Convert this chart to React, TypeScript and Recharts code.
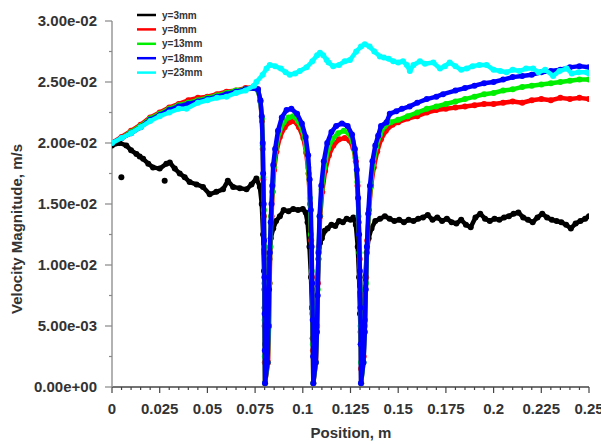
import { ComposedChart, Scatter, XAxis, YAxis } from "recharts";

type Pt = [number, number];

// tick positions + labels
const xMajorTicks = [0, 0.025, 0.05, 0.075, 0.1, 0.125, 0.15, 0.175, 0.2, 0.225, 0.25];
const xTickLabels = ["0", "0.025", "0.05", "0.075", "0.1", "0.125", "0.15", "0.175", "0.2", "0.225", "0.25"];
const xMinorTicks = [
  0.005, 0.01, 0.015, 0.02, 0.03, 0.035, 0.04, 0.045, 0.055, 0.06, 0.065, 0.07, 0.08, 0.085, 0.09, 0.095,
  0.105, 0.11, 0.115, 0.12, 0.13, 0.135, 0.14, 0.145, 0.155, 0.16, 0.165, 0.17, 0.18, 0.185, 0.19, 0.195,
  0.205, 0.21, 0.215, 0.22, 0.23, 0.235, 0.24, 0.245,
];
const yMajorTicks = [0, 0.005, 0.01, 0.015, 0.02, 0.025, 0.03];
const yTickLabels = ["0.00e+00", "5.00e-03", "1.00e-02", "1.50e-02", "2.00e-02", "2.50e-02", "3.00e-02"];
const yMinorTicks = [0.0025, 0.0075, 0.0125, 0.0175, 0.0225, 0.0275];

const seriesNames = ["y=3mm", "y=8mm", "y=13mm", "y=18mm", "y=23mm"];
const seriesColors = ["#000000", "#ff0000", "#00ee00", "#0000ff", "#00ffff"];

const y3mm: Pt[] = [
  [0, 0.0198], [0.004, 0.02], [0.0075, 0.0198], [0.01, 0.0194], [0.0128, 0.0191], [0.0145, 0.0189],
  [0.0163, 0.0187], [0.019, 0.0183], [0.0215, 0.018], [0.025, 0.0179], [0.0285, 0.0183], [0.0303, 0.0184],
  [0.0329, 0.0179], [0.0355, 0.0175], [0.0381, 0.0172], [0.0407, 0.0168], [0.0443, 0.0166], [0.0477, 0.0164],
  [0.0512, 0.0158], [0.0547, 0.016], [0.0582, 0.0162], [0.0607, 0.0169], [0.0635, 0.0164], [0.067, 0.0163],
  [0.0705, 0.0162], [0.0731, 0.0166], [0.0757, 0.0171], [0.0775, 0.0164], [0.0785, 0.015], [0.0792, 0.0125],
  [0.0797, 0.0095], [0.08, 0.0065], [0.0802, 0.0035], [0.0812, 0.005], [0.0818, 0.008], [0.0825, 0.0105],
  [0.0832, 0.0122], [0.0845, 0.013], [0.086, 0.0136], [0.088, 0.014], [0.09, 0.0145], [0.0925, 0.0144],
  [0.095, 0.0146], [0.0975, 0.0145], [0.1, 0.0146], [0.1015, 0.0143], [0.1025, 0.0135], [0.1035, 0.0115],
  [0.1043, 0.009], [0.1048, 0.0065], [0.1052, 0.004], [0.1058, 0.0025], [0.1068, 0.005], [0.1075, 0.008],
  [0.1082, 0.0105], [0.109, 0.0118], [0.11, 0.0122], [0.1115, 0.0128], [0.113, 0.013], [0.115, 0.0133],
  [0.117, 0.0132], [0.119, 0.0136], [0.121, 0.0135], [0.123, 0.0138], [0.125, 0.0137], [0.1265, 0.0139],
  [0.1278, 0.0133], [0.1288, 0.0115], [0.1295, 0.009], [0.13, 0.006], [0.1304, 0.0035], [0.1312, 0.004],
  [0.132, 0.0065], [0.1328, 0.009], [0.1335, 0.011], [0.1345, 0.0122], [0.136, 0.013], [0.138, 0.0136],
  [0.1405, 0.0138], [0.143, 0.014], [0.1455, 0.0138], [0.148, 0.0136], [0.1505, 0.0137], [0.153, 0.0135],
  [0.1555, 0.0137], [0.158, 0.0136], [0.1605, 0.0138], [0.163, 0.0139], [0.1655, 0.0141], [0.168, 0.0137],
  [0.1705, 0.0139], [0.173, 0.0136], [0.1755, 0.0138], [0.178, 0.0135], [0.1805, 0.0134], [0.183, 0.0137],
  [0.1855, 0.0133], [0.188, 0.0131], [0.1905, 0.0139], [0.193, 0.0142], [0.1955, 0.0138], [0.198, 0.0136],
  [0.2005, 0.0138], [0.203, 0.0137], [0.2055, 0.0139], [0.208, 0.014], [0.2105, 0.0142], [0.213, 0.0143],
  [0.2155, 0.0139], [0.218, 0.0137], [0.2205, 0.0135], [0.223, 0.0139], [0.2255, 0.0142], [0.228, 0.0139],
  [0.2305, 0.0137], [0.233, 0.0136], [0.2355, 0.0135], [0.238, 0.0133], [0.2405, 0.013], [0.243, 0.0134],
  [0.2455, 0.0136], [0.248, 0.0138], [0.25, 0.014],
];
// isolated black dots off the trend
const y3mmStray: Pt[] = [[0.0049, 0.0172], [0.0276, 0.0169]];

const y8mm: Pt[] = [
  [0, 0.02], [0.005, 0.0205], [0.01, 0.021], [0.015, 0.0215], [0.02, 0.0221], [0.025, 0.0225], [0.03, 0.0229],
  [0.035, 0.0232], [0.04, 0.0235], [0.045, 0.0237], [0.05, 0.0238], [0.055, 0.024], [0.06, 0.0242],
  [0.065, 0.0243], [0.07, 0.0245], [0.074, 0.0246], [0.0765, 0.0244], [0.0778, 0.0234], [0.0786, 0.0218],
  [0.079, 0.0195], [0.0793, 0.017], [0.0796, 0.014], [0.0798, 0.011], [0.0799, 0.008], [0.08, 0.005],
  [0.0801, 0.002], [0.0802, 0.0003], [0.0818, 0.002], [0.0823, 0.005], [0.0826, 0.0085], [0.083, 0.0115],
  [0.0836, 0.014], [0.0842, 0.016], [0.085, 0.0178], [0.0862, 0.0193], [0.088, 0.0205], [0.0905, 0.0213],
  [0.093, 0.0217], [0.0955, 0.0218], [0.098, 0.0213], [0.1003, 0.0204], [0.1018, 0.0192], [0.103, 0.0175],
  [0.1038, 0.015], [0.1044, 0.012], [0.1048, 0.009], [0.1051, 0.006], [0.1053, 0.003], [0.1055, 0.0003],
  [0.1069, 0.002], [0.1075, 0.005], [0.1079, 0.0085], [0.1084, 0.0115], [0.1091, 0.014], [0.1102, 0.016],
  [0.1117, 0.0177], [0.1137, 0.019], [0.116, 0.0198], [0.119, 0.0203], [0.122, 0.0204], [0.1245, 0.0202],
  [0.1265, 0.0196], [0.1278, 0.0185], [0.1287, 0.0165], [0.1293, 0.0135], [0.1298, 0.0105], [0.1301, 0.0075],
  [0.1303, 0.0045], [0.1305, 0.0015], [0.1306, 0.0003], [0.1319, 0.0025], [0.1326, 0.0055], [0.1332, 0.009],
  [0.1338, 0.012], [0.1347, 0.0145], [0.1358, 0.0165], [0.1372, 0.018], [0.139, 0.0193], [0.141, 0.0203],
  [0.1435, 0.021], [0.147, 0.0215], [0.15, 0.0217], [0.155, 0.022], [0.16, 0.0222], [0.165, 0.0225],
  [0.17, 0.0227], [0.175, 0.0228], [0.18, 0.0229], [0.185, 0.023], [0.19, 0.0231], [0.195, 0.0232],
  [0.2, 0.0232], [0.205, 0.0233], [0.21, 0.0234], [0.215, 0.0233], [0.22, 0.0235], [0.225, 0.0236],
  [0.23, 0.0235], [0.235, 0.0237], [0.24, 0.0236], [0.245, 0.0237], [0.25, 0.0236],
];

const y13mm: Pt[] = [
  [0, 0.02], [0.005, 0.0204], [0.01, 0.0209], [0.015, 0.0214], [0.02, 0.022], [0.025, 0.0224], [0.03, 0.0228],
  [0.035, 0.0231], [0.04, 0.0233], [0.045, 0.0235], [0.05, 0.0237], [0.055, 0.0239], [0.06, 0.0241],
  [0.065, 0.0243], [0.07, 0.0244], [0.074, 0.0245], [0.0765, 0.0243], [0.0778, 0.0234], [0.0786, 0.022],
  [0.079, 0.0198], [0.0793, 0.0172], [0.0796, 0.0145], [0.0798, 0.0115], [0.0799, 0.0085], [0.08, 0.0055],
  [0.0801, 0.0025], [0.0802, 0.0003], [0.0816, 0.002], [0.0822, 0.005], [0.0825, 0.0085], [0.0829, 0.0115],
  [0.0834, 0.014], [0.084, 0.016], [0.0848, 0.018], [0.0858, 0.0195], [0.0875, 0.0208], [0.09, 0.0217],
  [0.0925, 0.0221], [0.095, 0.0222], [0.0975, 0.0218], [0.1, 0.021], [0.1017, 0.0197], [0.1029, 0.018],
  [0.1037, 0.0155], [0.1043, 0.0125], [0.1047, 0.0095], [0.1051, 0.0065], [0.1053, 0.0035], [0.1055, 0.0003],
  [0.1068, 0.002], [0.1074, 0.005], [0.1078, 0.008], [0.1083, 0.0112], [0.1089, 0.014], [0.1099, 0.0162],
  [0.1113, 0.018], [0.1132, 0.0195], [0.1155, 0.0203], [0.1185, 0.0208], [0.1215, 0.021], [0.124, 0.0208],
  [0.1262, 0.0201], [0.1276, 0.0188], [0.1286, 0.0168], [0.1292, 0.014], [0.1297, 0.011], [0.1301, 0.008],
  [0.1303, 0.005], [0.1305, 0.002], [0.1306, 0.0003], [0.1318, 0.002], [0.1325, 0.005], [0.1331, 0.0085],
  [0.1337, 0.0115], [0.1345, 0.0142], [0.1355, 0.0164], [0.1368, 0.0182], [0.1385, 0.0197], [0.1405, 0.0207],
  [0.143, 0.0214], [0.146, 0.0217], [0.15, 0.0219], [0.155, 0.0222], [0.16, 0.0225], [0.165, 0.0228],
  [0.17, 0.023], [0.175, 0.0232], [0.18, 0.0234], [0.185, 0.0236], [0.19, 0.0238], [0.195, 0.024],
  [0.2, 0.0241], [0.205, 0.0243], [0.21, 0.0244], [0.215, 0.0246], [0.22, 0.0247], [0.225, 0.0248],
  [0.23, 0.0249], [0.235, 0.025], [0.24, 0.0251], [0.245, 0.0252], [0.25, 0.0252],
];

const y18mm: Pt[] = [
  [0, 0.02], [0.005, 0.0204], [0.01, 0.0208], [0.015, 0.0213], [0.02, 0.0219], [0.025, 0.0223], [0.03, 0.0227],
  [0.035, 0.023], [0.04, 0.0232], [0.045, 0.0234], [0.05, 0.0236], [0.055, 0.0238], [0.06, 0.024],
  [0.065, 0.0242], [0.07, 0.0244], [0.074, 0.0245], [0.0765, 0.0244], [0.0778, 0.0235], [0.0785, 0.0222],
  [0.079, 0.02], [0.0792, 0.0175], [0.0795, 0.015], [0.0797, 0.012], [0.0799, 0.009], [0.08, 0.006],
  [0.0801, 0.003], [0.0802, 0.0003], [0.0815, 0.002], [0.082, 0.005], [0.0823, 0.008], [0.0827, 0.011],
  [0.0832, 0.0135], [0.0836, 0.015], [0.084, 0.0165], [0.0845, 0.0182], [0.0855, 0.0195], [0.087, 0.021],
  [0.089, 0.0221], [0.0915, 0.0227], [0.094, 0.0228], [0.097, 0.0224], [0.0995, 0.0216], [0.1015, 0.0205],
  [0.1028, 0.019], [0.1036, 0.017], [0.1042, 0.0145], [0.1046, 0.0115], [0.1049, 0.0085], [0.1052, 0.0055],
  [0.1054, 0.0025], [0.1055, 0.0003], [0.1068, 0.002], [0.1074, 0.0045], [0.1078, 0.0075], [0.1082, 0.011],
  [0.1088, 0.014], [0.1097, 0.0165], [0.111, 0.0185], [0.1128, 0.02], [0.115, 0.0209], [0.1175, 0.0214],
  [0.1205, 0.0216], [0.1235, 0.0214], [0.1258, 0.0207], [0.1273, 0.0195], [0.1283, 0.0178], [0.129, 0.0155],
  [0.1295, 0.0125], [0.1299, 0.0095], [0.1302, 0.0065], [0.1304, 0.0035], [0.1305, 0.0003], [0.1318, 0.002],
  [0.1325, 0.0045], [0.133, 0.008], [0.1336, 0.0115], [0.1343, 0.0142], [0.1352, 0.0165], [0.1365, 0.0185],
  [0.138, 0.0198], [0.1395, 0.0206], [0.141, 0.0214], [0.1439, 0.0217], [0.1456, 0.0224], [0.149, 0.0226],
  [0.152, 0.0228], [0.156, 0.023], [0.16, 0.0233], [0.165, 0.0236], [0.17, 0.0238], [0.1735, 0.024],
  [0.18, 0.0243], [0.185, 0.0245], [0.19, 0.0247], [0.195, 0.0249], [0.2, 0.025], [0.205, 0.0252],
  [0.21, 0.0254], [0.215, 0.0255], [0.22, 0.0256], [0.225, 0.0258], [0.23, 0.0259], [0.235, 0.026],
  [0.24, 0.0262], [0.245, 0.0263], [0.25, 0.0262],
];

const y23mm: Pt[] = [
  [0, 0.02], [0.005, 0.0204], [0.01, 0.0208], [0.015, 0.0213], [0.02, 0.0218], [0.025, 0.0222], [0.03, 0.0225],
  [0.035, 0.0228], [0.039, 0.0228], [0.045, 0.0233], [0.05, 0.0235], [0.055, 0.0237], [0.06, 0.0238],
  [0.065, 0.0241], [0.07, 0.0243], [0.0745, 0.0247], [0.0757, 0.025], [0.079, 0.0256], [0.081, 0.0261],
  [0.0827, 0.0264], [0.0855, 0.0263], [0.0885, 0.0261], [0.091, 0.0258], [0.0932, 0.0256], [0.096, 0.0257],
  [0.0984, 0.0259], [0.102, 0.0262], [0.105, 0.0267], [0.1075, 0.0272], [0.109, 0.0274], [0.1107, 0.0272],
  [0.1125, 0.0268], [0.1135, 0.0266], [0.1159, 0.0263], [0.119, 0.0264], [0.122, 0.0267], [0.1247, 0.0268],
  [0.128, 0.0275], [0.1305, 0.0279], [0.1325, 0.0281], [0.135, 0.0279], [0.1375, 0.0275], [0.1404, 0.0271],
  [0.1425, 0.027], [0.145, 0.0269], [0.1474, 0.0267], [0.15, 0.0266], [0.1525, 0.0267], [0.1545, 0.0264],
  [0.1561, 0.0259], [0.158, 0.0264], [0.1614, 0.0267], [0.164, 0.0265], [0.1684, 0.0266], [0.1719, 0.0261],
  [0.1745, 0.0263], [0.177, 0.0266], [0.18, 0.0263], [0.183, 0.026], [0.1859, 0.0261], [0.189, 0.0263],
  [0.1925, 0.0264], [0.1963, 0.0264], [0.2, 0.026], [0.2035, 0.0259], [0.2068, 0.0258], [0.21, 0.026],
  [0.2135, 0.0259], [0.217, 0.0261], [0.2207, 0.0261], [0.2235, 0.0258], [0.227, 0.026], [0.2312, 0.0255],
  [0.2345, 0.0259], [0.2383, 0.0261], [0.241, 0.0257], [0.2445, 0.0258], [0.2488, 0.0258], [0.25, 0.0257],
];

const seriesData = [y3mm, y8mm, y13mm, y18mm, y23mm];

const FONT = "'Liberation Sans', Arial, sans-serif";
const TEXT = "#333333";

const toRows = (pts: Pt[]) => pts.map(([x, y]) => ({ x, y }));
const near = (a: number, b: number) => Math.abs(a - b) < 1e-6;

function XTick({ x, y, payload }: any) {
  const i = xMajorTicks.findIndex((t) => near(t, payload.value));
  const major = i >= 0;
  return (
    <g>
      <line x1={x} x2={x} y1={y} y2={y + (major ? 6 : 3)} stroke="#444" strokeWidth={1.2} />
      {major && (
        <text x={x} y={y + 27} textAnchor="middle" fontFamily={FONT} fontWeight="bold" fontSize={15} fill={TEXT}>
          {xTickLabels[i]}
        </text>
      )}
    </g>
  );
}

function YTick({ x, y, payload }: any) {
  const i = yMajorTicks.findIndex((t) => near(t, payload.value));
  const major = i >= 0;
  return (
    <g>
      <line x1={x} x2={x - (major ? 7 : 3)} y1={y} y2={y} stroke="#888" strokeWidth={1.2} />
      {major && (
        <text x={x - 15} y={y} dy="0.36em" textAnchor="end" fontFamily={FONT} fontWeight="bold" fontSize={15} fill={TEXT}>
          {yTickLabels[i]}
        </text>
      )}
    </g>
  );
}

const dot = (color: string) => (p: any) => <circle cx={p.cx} cy={p.cy} r={3} fill={color} />;

export default function App() {
  const xTicks = [...xMajorTicks, ...xMinorTicks].sort((a, b) => a - b);
  const yTicks = [...yMajorTicks, ...yMinorTicks].sort((a, b) => a - b);

  return (
    <div style={{ position: "absolute", left: 0, top: 0, width: 601, height: 444, background: "#fff" }}>
      <ComposedChart width={601} height={444} margin={{ top: 21, right: 12, bottom: 0, left: 0 }}>
        <XAxis
          type="number"
          dataKey="x"
          domain={[0, 0.25]}
          ticks={xTicks}
          interval={0}
          tick={<XTick />}
          tickLine={false}
          tickSize={0}
          tickMargin={0}
          height={57}
          axisLine={{ stroke: "#444", strokeWidth: 1.5 }}
          allowDataOverflow
        />
        <YAxis
          type="number"
          dataKey="y"
          domain={[0, 0.03]}
          ticks={yTicks}
          interval={0}
          tick={<YTick />}
          tickLine={false}
          tickSize={0}
          tickMargin={0}
          width={112}
          axisLine={{ stroke: "#999", strokeWidth: 1.5 }}
          allowDataOverflow
        />
        {seriesData.map((pts, i) => (
          <Scatter
            key={seriesNames[i]}
            name={seriesNames[i]}
            data={toRows(pts)}
            fill={seriesColors[i]}
            line={{ stroke: seriesColors[i], strokeWidth: 4.5, strokeLinejoin: "round", strokeLinecap: "round" }}
            shape={dot(seriesColors[i])}
            isAnimationActive={false}
          />
        ))}
        <Scatter data={toRows(y3mmStray)} fill="#000" shape={dot("#000")} isAnimationActive={false} />
      </ComposedChart>

      <svg width={601} height={444} style={{ position: "absolute", left: 0, top: 0, pointerEvents: "none" }}>
        {seriesNames.map((name, i) => (
          <g key={name}>
            <line x1={137} x2={156} y1={15 + i * 14.4} y2={15 + i * 14.4} stroke={seriesColors[i]} strokeWidth={2.5} />
            <text x={162} y={15 + i * 14.4} dy="0.36em" fontFamily={FONT} fontWeight="bold" fontSize={10} fill={TEXT}>
              {name}
            </text>
          </g>
        ))}
        <text x={351} y={438} textAnchor="middle" fontFamily={FONT} fontWeight="bold" fontSize={15} fill={TEXT}>
          Position, m
        </text>
        <text
          x={0}
          y={0}
          transform="translate(21.5 229) rotate(-90)"
          textAnchor="middle"
          fontFamily={FONT}
          fontWeight="bold"
          fontSize={15}
          fill={TEXT}
        >
          Velocity Magnitude, m/s
        </text>
      </svg>
    </div>
  );
}
